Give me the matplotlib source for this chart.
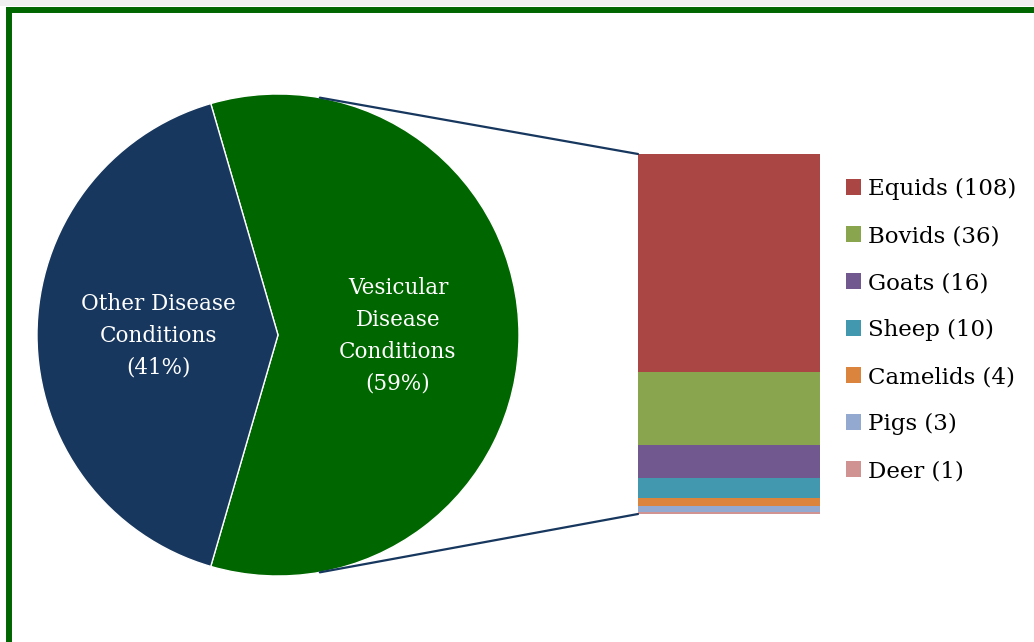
import matplotlib
matplotlib.use("Agg")
import matplotlib.pyplot as plt
from matplotlib.patches import Rectangle, ConnectionPatch
import numpy as np

# ---- data ----
pie_labels = ["Vesicular\nDisease\nConditions\n(59%)", "Other Disease\nConditions\n(41%)"]
pie_values = [59, 41]
pie_colors = ["#006600", "#17375E"]

species = ["Equids", "Bovids", "Goats", "Sheep", "Camelids", "Pigs", "Deer"]
counts = [108, 36, 16, 10, 4, 3, 1]
species_colors = ["#AA4745", "#89A54E", "#71588F", "#4198AF", "#DB843D", "#93A9CF", "#D19392"]
legend_labels = [f"{s} ({c})" for s, c in zip(species, counts)]

W, H = 1034, 642
fig = plt.figure(figsize=(W / 100, H / 100), dpi=100)
fig.patch.set_facecolor("white")

# top shadow strip and green frame
fig.patches.append(Rectangle((0, 1 - 6 / H), 1, 6 / H, transform=fig.transFigure,
                             facecolor="#f0f0f0", edgecolor="none", zorder=0))
fig.patches.append(Rectangle((8.5 / W, -0.1), 1.2, 1 - 9.5 / H + 0.1, transform=fig.transFigure,
                             facecolor="none", edgecolor="#006600", linewidth=4.3, zorder=1))

FONT = "DejaVu Serif"

# ---- pie ----
cx, cy, r = 278, 335, 241
ax_pie = fig.add_axes([(cx - r) / W, (H - cy - r) / H, 2 * r / W, 2 * r / H])
start = -pie_values[0] / sum(pie_values) * 180
wedges, _ = ax_pie.pie(pie_values, colors=pie_colors, startangle=start, counterclock=True,
                       radius=1.0, wedgeprops=dict(edgecolor="white", linewidth=1.0))
ax_pie.set_xlim(-1, 1)
ax_pie.set_ylim(-1, 1)
ax_pie.set_aspect("equal")
ax_pie.axis("off")

# labels
ax_pie.text((398 - cx) / r, (cy - 336) / r, pie_labels[0], ha="center", va="center",
            color="white", fontsize=15.5, family=FONT, linespacing=1.58)
ax_pie.text((158 - cx) / r, (cy - 335.5) / r, pie_labels[1], ha="center", va="center",
            color="white", fontsize=15.5, family=FONT, linespacing=1.58)

# ---- bar ----
bx0, bx1, by0, by1 = 638, 820, 154, 514
ax_bar = fig.add_axes([bx0 / W, (H - by1) / H, (bx1 - bx0) / W, (by1 - by0) / H])
bottom = 0
for s, c, col in reversed(list(zip(species, counts, species_colors))):
    ax_bar.bar(0, c, bottom=bottom, width=1.0, color=col, edgecolor="none")
    bottom += c
ax_bar.set_xlim(-0.5, 0.5)
ax_bar.set_ylim(0, sum(counts))
ax_bar.axis("off")

# connectors
ang = np.deg2rad(80)
for sign, yb in [(1, sum(counts)), (-1, 0)]:
    con = ConnectionPatch(xyA=(np.cos(ang), sign * np.sin(ang)), coordsA=ax_pie.transData,
                          xyB=(-0.5, yb), coordsB=ax_bar.transData,
                          color="#17375E", linewidth=1.6, zorder=5)
    fig.add_artist(con)

# ---- legend ----
handles = [Rectangle((0, 0), 1, 1, facecolor=col, edgecolor="none") for col in species_colors]
leg = fig.legend(handles, legend_labels, loc="upper left",
                 bbox_to_anchor=(846 / W, 1 - 178 / H), frameon=False,
                 prop=dict(family=FONT, size=16.5), handlelength=0.66, handleheight=0.66,
                 handletextpad=0.28, labelspacing=1.09, borderaxespad=0, borderpad=0)

fig.savefig("out.png", dpi=100, facecolor="white")
